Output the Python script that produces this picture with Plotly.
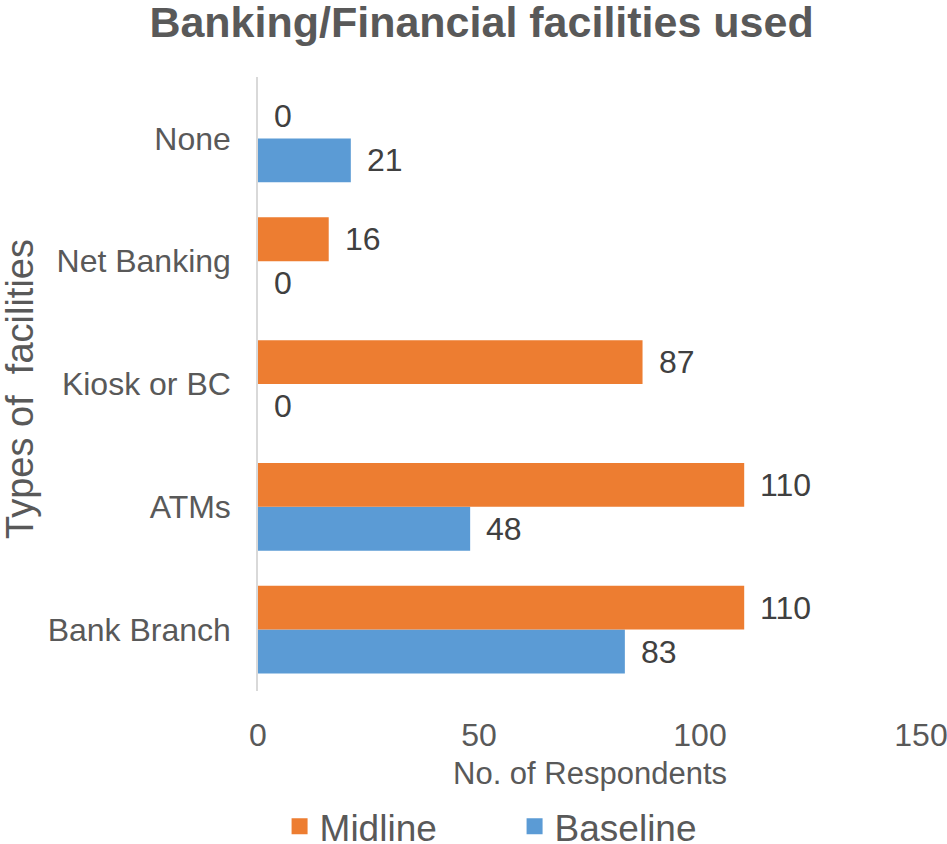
import plotly.graph_objects as go

# Facility categories, listed bottom to top
categories = ["Bank Branch", "ATMs", "Kiosk or BC", "Net Banking", "None"]
baseline = [83, 48, 0, 0, 21]
midline = [110, 110, 87, 16, 0]

x_ticks = [0, 50, 100, 150]

ORANGE = "#ED7D31"
BLUE = "#5B9BD5"
TXT = "#595959"
LBL = "#404040"
FONT = "Liberation Sans, Arial, sans-serif"

BARGAP = 0.286
bar_w = (1 - BARGAP) / 2

fig = go.Figure()
fig.add_trace(go.Bar(y=categories, x=baseline, name="Baseline", orientation="h",
                     marker=dict(color=BLUE, line=dict(width=0)), showlegend=False))
fig.add_trace(go.Bar(y=categories, x=midline, name="Midline", orientation="h",
                     marker=dict(color=ORANGE, line=dict(width=0)), showlegend=False))

# legend keys drawn as larger square swatches
for name, color in (("Midline", ORANGE), ("Baseline", BLUE)):
    fig.add_trace(go.Scatter(x=[None], y=[None], mode="markers", name=name,
                             marker=dict(symbol="square", size=19, color=color,
                                         line=dict(width=0)),
                             showlegend=True, hoverinfo="skip"))

# value labels just past the end of each bar
annotations = []
for i, (b, m) in enumerate(zip(baseline, midline)):
    for val, off in ((b, -bar_w / 2), (m, bar_w / 2)):
        annotations.append(dict(x=val, y=i + off, xref="x", yref="y",
                                text=str(val), showarrow=False,
                                xanchor="left", yanchor="middle", xshift=14,
                                font=dict(size=32, color=LBL, family=FONT)))

annotations.append(dict(x=0.5, y=-0.1336, xref="paper", yref="paper",
                        text="No. of Respondents", showarrow=False,
                        xanchor="center", yanchor="middle",
                        font=dict(size=31, color=TXT, family=FONT)))
annotations.append(dict(x=-0.359, y=0.492, xref="paper", yref="paper",
                        text="Types of  facilities", showarrow=False, textangle=-90,
                        xanchor="center", yanchor="middle",
                        font=dict(size=38, color=TXT, family=FONT)))

fig.update_layout(
    width=947, height=844,
    margin=dict(l=258, r=26, t=77, b=153, autoexpand=False),
    paper_bgcolor="white", plot_bgcolor="white",
    barmode="group", bargap=BARGAP, bargroupgap=0,
    font=dict(family=FONT, color=TXT),
    title=dict(text="<b>Banking/Financial facilities used</b>",
               x=0.5085, xref="container", xanchor="center",
               y=1 - 22 / 844, yref="container", yanchor="middle",
               font=dict(size=43, color=TXT, family=FONT)),
    xaxis=dict(range=[0, 150], tickvals=x_ticks, showgrid=False, zeroline=False,
               showline=False, ticks="", ticklabelstandoff=22,
               ticklabeloverflow="allow",
               tickfont=dict(size=32, color=TXT, family=FONT)),
    yaxis=dict(categoryorder="array", categoryarray=categories, range=[-0.5, 4.5],
               showgrid=False, zeroline=False, showline=True,
               linecolor="#D9D9D9", linewidth=1.5, ticks="", ticklabelstandoff=19,
               tickfont=dict(size=32, color=TXT, family=FONT)),
    legend=dict(orientation="h", traceorder="normal",
                x=0.387, xanchor="center", y=-0.221, yanchor="middle",
                entrywidth=190, entrywidthmode="pixels",
                font=dict(size=37, color=TXT, family=FONT),
                itemsizing="trace"),
    annotations=annotations,
    showlegend=True,
)

fig.write_html("out.html")
